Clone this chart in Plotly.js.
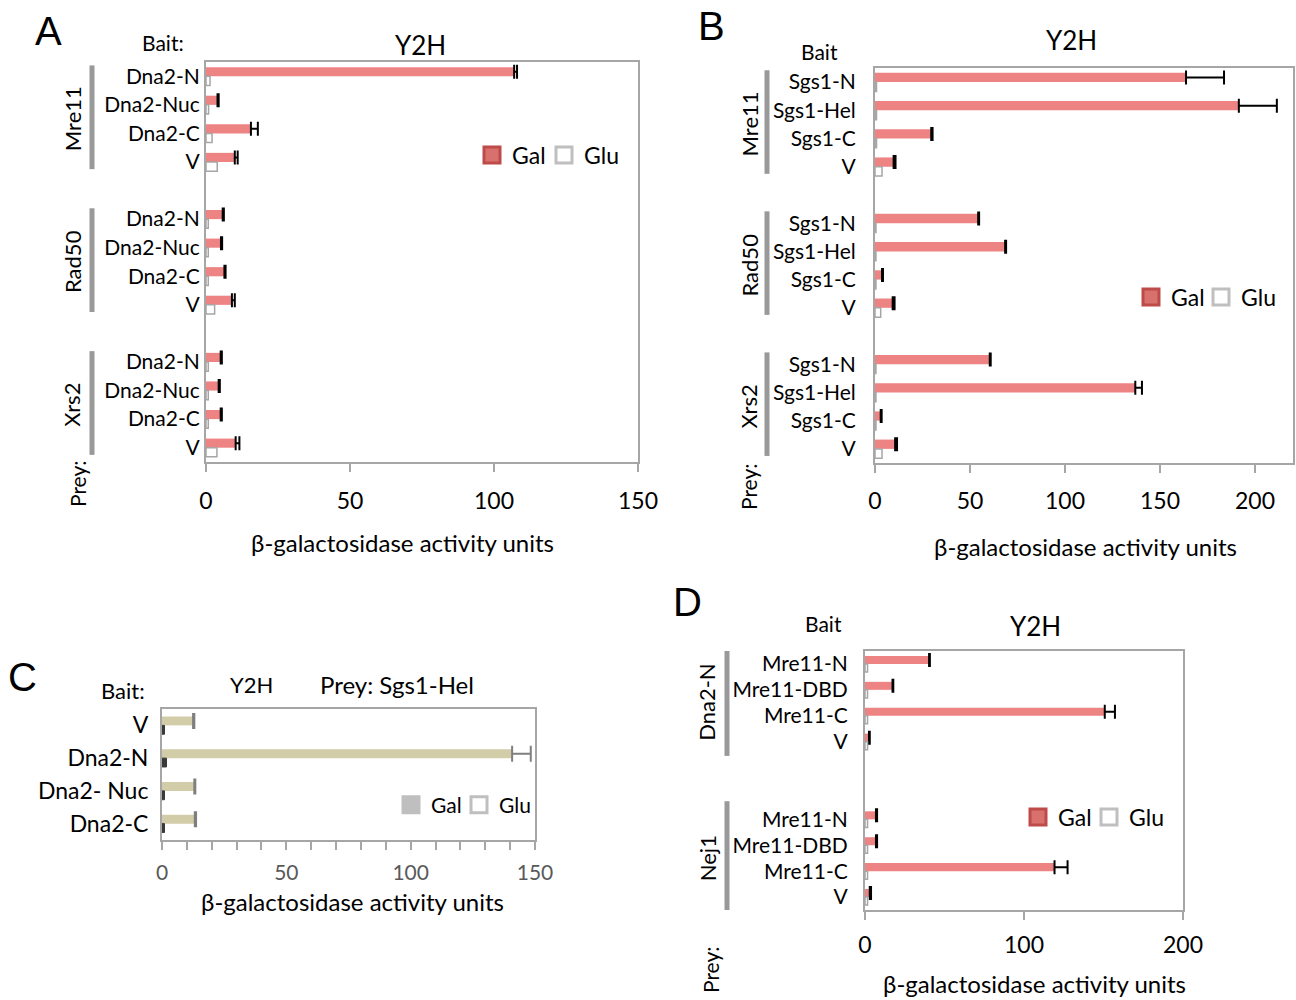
<!DOCTYPE html>
<html><head><meta charset="utf-8">
<script src="https://cdn.plot.ly/plotly-3.0.1.min.js"></script>
<style>html,body{margin:0;padding:0;background:#fff;overflow:hidden}#chart{width:1296px;height:1000px}</style>
</head><body><div id="chart"></div>
<script>
// ---------- Panel A data ----------
const aGroups = ["Mre11", "Rad50", "Xrs2"];
const aPrey = ["Dna2-N", "Dna2-Nuc", "Dna2-C", "V"];
const aGal = [107, 4, 15.6, 10, 5.8, 5.2, 6.4, 9, 5.1, 4.4, 5.1, 10.3];
const aGalErr = [1, 0.4, 2.4, 1, 0.4, 0.4, 0.4, 1, 0.4, 0.4, 0.4, 1.3];
const aGlu = [1.4, 0.9, 2.1, 3.9, 0.8, 0.8, 0.8, 3, 0.8, 0.8, 0.8, 3.8];
const aTicks = [0, 50, 100, 150];

// ---------- Panel B data ----------
const bGroups = ["Mre11", "Rad50", "Xrs2"];
const bPrey = ["Sgs1-N", "Sgs1-Hel", "Sgs1-C", "V"];
const bGal = [163.7, 191.5, 29.6, 9.8, 54.3, 68.5, 3.7, 9.3, 60.4, 137, 3, 10.6];
const bGalErr = [20, 20, 0.7, 1, 0.5, 0.5, 0.5, 1, 0.5, 3.5, 0.5, 1];
const bGlu = [0.8, 0.8, 0.8, 3.7, 0.5, 0.5, 0.5, 3, 0.5, 0.5, 0.5, 3.7];
const bTicks = [0, 50, 100, 150, 200];

// ---------- Panel C data ----------
const cBait = ["V", "Dna2-N", "Dna2- Nuc", "Dna2-C"];
const cGal = [12.5, 140.8, 13, 13.2];
const cGalErr = [0.5, 7.5, 0.4, 0.5];
const cGlu = [1, 1.8, 1, 1];
const cTicks = [0, 50, 100, 150];

// ---------- Panel D data ----------
const dGroups = ["Dna2-N", "Nej1"];
const dPrey = ["Mre11-N", "Mre11-DBD", "Mre11-C", "V"];
const dGal = [40.3, 17.3, 150.8, 2.5, 6.9, 6.9, 119.2, 3];
const dGalErr = [0.5, 0.5, 6.4, 0.5, 0.7, 0.7, 8.2, 0.8];
const dGlu = [1.6, 1.6, 1.6, 1.6, 1.6, 1.6, 1.6, 1.6];
const dTicks = [0, 100, 200];

const seriesNames = ["Gal", "Glu"];
const xTitle = "β-galactosidase activity units";

// ---------- helpers ----------
const W = 1296, H = 1000;
const px = v => v / W;
const py = v => 1 - v / H;
const FONT = "Lato, 'Open Sans', sans-serif";
const GAL = "#EE8383", GLU_LINE = "#A6A6A6", AXC = "#A6A6A6";

function buildCats(groups, preys, gap) {
  const cats = [], keys = [], texts = [], spans = [];
  groups.forEach((g, gi) => {
    if (gi > 0) for (let k = 0; k < gap; k++) cats.push("gap" + gi + "_" + k);
    const start = cats.length;
    preys.forEach(p => { const key = g + "|" + p; cats.push(key); keys.push(key); texts.push(p); });
    spans.push([start, cats.length - 1]);
  });
  return { cats, keys, texts, spans };
}

const A = buildCats(aGroups, aPrey, 1);
const B = buildCats(bGroups, bPrey, 1);
const D = buildCats(dGroups, dPrey, 2);

const traces = [];
function addBars(keys, gal, err, glu, xa, ya, w, galColor, gluStyle, errStyle) {
  traces.push({
    type: "bar", orientation: "h", y: keys, x: gal, xaxis: xa, yaxis: ya,
    width: w, offset: -w, marker: { color: galColor, line: { width: 0 } },
    error_x: Object.assign({ type: "data", symmetric: false, array: err, arrayminus: err.map(() => 0) }, errStyle),
    showlegend: false, hoverinfo: "x+y", name: seriesNames[0]
  });
  traces.push({
    type: "bar", orientation: "h", y: keys, x: glu, xaxis: xa, yaxis: ya,
    width: w, offset: 0, marker: gluStyle,
    showlegend: false, hoverinfo: "x+y", name: seriesNames[1]
  });
}
const errBlack = { color: "#000", thickness: 2, width: 7 };
const gluStd = { color: "#FFFFFF", line: { color: GLU_LINE, width: 1.5 } };

addBars(A.keys, aGal, aGalErr, aGlu, "x", "y", 0.32, GAL, gluStd, errBlack);
addBars(B.keys, bGal, bGalErr, bGlu, "x2", "y2", 0.33, GAL, gluStd, errBlack);
addBars(cBait, cGal, cGalErr, cGlu, "x3", "y3", 0.27, "#D3CCA8",
  { color: "#3A3A3A", line: { color: "#3A3A3A", width: 1 } },
  { color: "#7F7F7F", thickness: 2, width: 8 });
addBars(D.keys, dGal, dGalErr, dGlu, "x4", "y4", 0.31, GAL, gluStd, errBlack);

// legend-only entries (plus an invisible spacer so the last label is not clipped)
function addLegend(leg, xa, ya, galFill, galLine, gluFill, gluLine) {
  const fills = [[galFill, galLine], [gluFill, gluLine]];
  seriesNames.forEach((n, i) => traces.push({
    type: "scatter", mode: "markers", x: [null], y: [null], xaxis: xa, yaxis: ya,
    name: n, legend: leg, hoverinfo: "skip",
    marker: { symbol: "square", size: 16, color: fills[i][0], line: { color: fills[i][1], width: 3 } }
  }));
  traces.push({
    type: "scatter", mode: "markers", x: [null], y: [null], xaxis: xa, yaxis: ya,
    name: " ", legend: leg, hoverinfo: "skip",
    marker: { symbol: "square", size: 1, color: "rgba(0,0,0,0)", line: { width: 0 } }
  });
}
addLegend("legend", "x", "y", "#D8716D", "#BE4B48", "#FFFFFF", "#BFBFBF");
addLegend("legend2", "x2", "y2", "#D8716D", "#BE4B48", "#FFFFFF", "#BFBFBF");
addLegend("legend3", "x3", "y3", "#BFBFBF", "#BFBFBF", "#FFFFFF", "#BFBFBF");
addLegend("legend4", "x4", "y4", "#D8716D", "#BE4B48", "#FFFFFF", "#BFBFBF");

function xAxis(dom, range, ticks, anchor, standoff, extra) {
  return Object.assign({
    domain: dom, range: range, anchor: anchor, tickmode: "array", tickvals: ticks,
    ticks: "outside", ticklen: 8, tickwidth: 2, tickcolor: AXC,
    showline: true, mirror: true, linecolor: AXC, linewidth: 2,
    showgrid: false, zeroline: false, fixedrange: true, automargin: false,
    tickfont: { size: 23, color: "#000", family: FONT }, ticklabelstandoff: standoff
  }, extra || {});
}
function yAxis(dom, cats, keys, texts, anchor, fs, standoff) {
  return {
    domain: dom, anchor: anchor, type: "category", categoryorder: "array", categoryarray: cats,
    range: [cats.length - 0.5, -0.5], tickmode: "array", tickvals: keys, ticktext: texts,
    ticks: "", showline: true, mirror: true, linecolor: AXC, linewidth: 2,
    showgrid: false, zeroline: false, fixedrange: true, automargin: false,
    tickfont: { size: fs, color: "#000", family: FONT }, ticklabelstandoff: standoff
  };
}

const ann = [];
function txt(text, x, y, size, opts) {
  ann.push(Object.assign({
    text: text, x: px(x), y: py(y), xref: "paper", yref: "paper",
    xanchor: "center", yanchor: "middle", showarrow: false,
    font: { size: size, color: "#000", family: FONT }
  }, opts || {}));
}
const shapes = [];
function groupLabels(groups, spans, yref, xLabel, xBar, padTop, padBot) {
  groups.forEach((g, i) => {
    const [s, e] = spans[i];
    ann.push({
      text: g, x: px(xLabel), y: (s + e) / 2, xref: "paper", yref: yref,
      xanchor: "center", yanchor: "middle", textangle: -90, showarrow: false,
      font: { size: 22, color: "#000", family: FONT }
    });
    shapes.push({
      type: "line", xref: "paper", yref: yref, x0: px(xBar), x1: px(xBar),
      y0: s - padTop, y1: e + padBot, line: { color: "#999999", width: 5 }
    });
  });
}
const LETTER = { size: 40, color: "#000", family: "Liberation Sans, Arial, sans-serif" };

// Panel A texts
txt("A", 48, 31, 40, { font: LETTER });
txt("Bait:", 163, 42, 21);
txt("Y2H", 420, 45, 26);
txt("Prey:", 77, 484, 21, { textangle: -90 });
txt(xTitle, 402, 542, 24);
groupLabels(aGroups, A.spans, "y", 72, 92, 0.38, 0.25);

// Panel B texts
txt("B", 711, 26, 40, { font: LETTER });
txt("Bait", 819, 51, 21);
txt("Y2H", 1071, 40, 26);
txt("Prey:", 748, 487, 21, { textangle: -90 });
txt(xTitle, 1085, 546, 24);
groupLabels(bGroups, B.spans, "y2", 749, 767, 0.42, 0.25);

// Panel C texts
txt("C", 22, 677, 40, { font: LETTER });
txt("Bait:", 123, 690, 22);
txt("Y2H", 251, 684, 22);
txt("Prey: Sgs1-Hel", 397, 684, 24);
txt(xTitle, 352, 901, 24);

// Panel D texts
txt("D", 687, 602, 40, { font: LETTER });
txt("Bait", 823, 623, 21);
txt("Y2H", 1035, 626, 26);
txt("Prey:", 710, 970, 21, { textangle: -90 });
txt(xTitle, 1034, 983, 24);
groupLabels(dGroups, D.spans, "y4", 707, 727, 0.7, 0.55);

function legendAt(x, y, size, ew) {
  return {
    x: px(x), y: py(y), xanchor: "left", yanchor: "middle", orientation: "h",
    bgcolor: "rgba(0,0,0,0)", borderwidth: 0, itemwidth: 30, itemclick: false, itemdoubleclick: false,
    entrywidth: ew, entrywidthmode: "pixels",
    font: { size: size, color: "#000", family: FONT }, tracegroupgap: 0
  };
}

const layout = {
  width: W, height: H, margin: { l: 0, r: 0, t: 0, b: 0, pad: 0, autoexpand: false },
  paper_bgcolor: "#fff", plot_bgcolor: "#fff",
  font: { family: FONT, color: "#000" },
  barmode: "overlay", showlegend: true,
  xaxis: xAxis([px(206), px(638)], [0, 150], aTicks, "y", 9),
  yaxis: yAxis([py(462), py(62)], A.cats, A.keys, A.texts, "x", 21, 0),
  xaxis2: xAxis([px(875), px(1293)], [0, 220], bTicks, "y2", 8),
  yaxis2: yAxis([py(463), py(68)], B.cats, B.keys, B.texts, "x2", 21, 13),
  xaxis3: xAxis([px(162), px(535)], [0, 150], cTicks, "y3", 5, {
    tickfont: { size: 21, color: "#595959", family: FONT },
    minor: { dtick: 10, ticks: "outside", ticklen: 8, tickwidth: 2, tickcolor: AXC }
  }),
  yaxis3: yAxis([py(840), py(709)], cBait, cBait, cBait, "x3", 23, 7),
  xaxis4: xAxis([px(865), px(1183)], [0, 200], dTicks, "y4", 5),
  yaxis4: yAxis([py(910), py(651)], D.cats, D.keys, D.texts, "x4", 21, 11),
  legend: legendAt(472, 155, 23, 27),
  legend2: legendAt(1131, 297, 23, 25),
  legend3: legendAt(391, 805, 21, 23),
  legend4: legendAt(1018, 817, 23, 26),
  annotations: ann, shapes: shapes
};

Plotly.newPlot("chart", traces, layout, { displayModeBar: false, staticPlot: true });
</script>
</body></html>
